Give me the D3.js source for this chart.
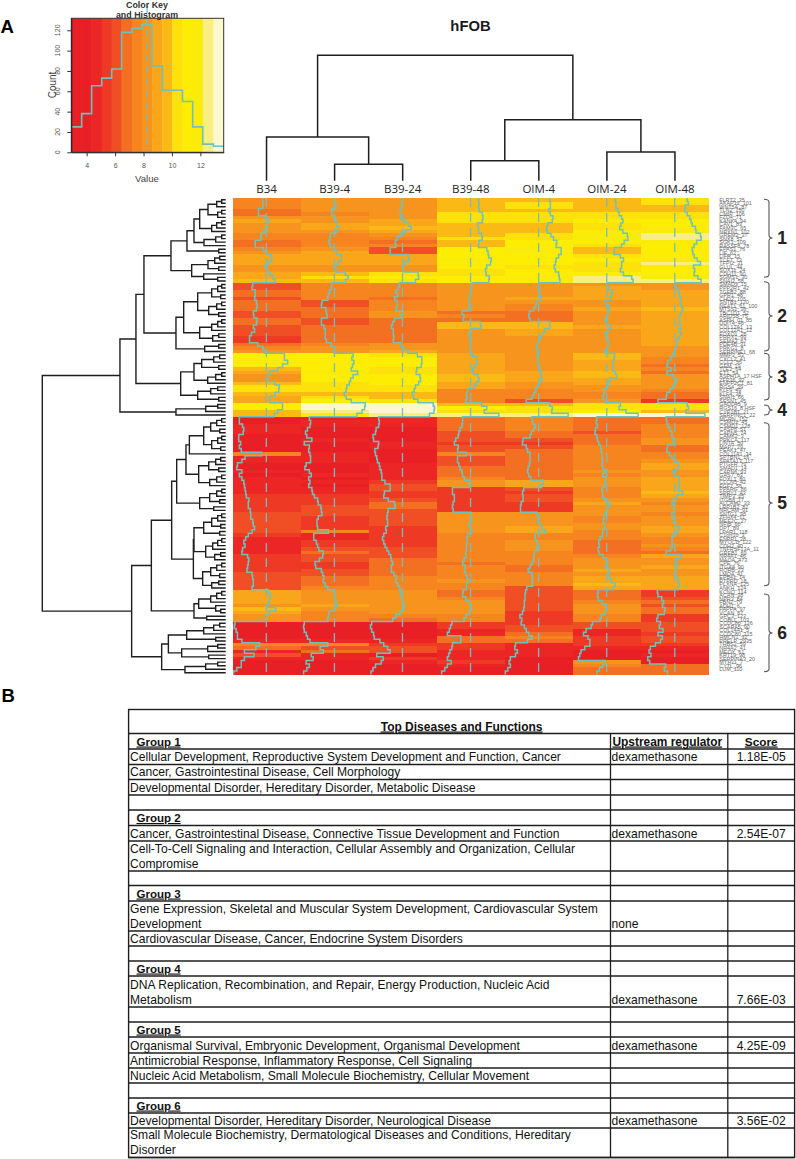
<!DOCTYPE html>
<html><head><meta charset="utf-8">
<script src="https://cdn.jsdelivr.net/npm/d3@7"></script>
<style>html,body{margin:0;padding:0;background:#fff}svg{display:block}text{font-family:"Liberation Sans",Arial,sans-serif}</style>
</head><body><svg id="c" width="796" height="1159"></svg>
<script>
const samples=["B34","B39-4","B39-24","B39-48","OIM-4","OIM-24","OIM-48"];
const valB34=[7.7,7.7,7.7,7.0,7.0,8.1,8.6,8.2,8.4,7.9,7.4,7.4,6.5,6.5,7.8,8.3,9.0,9.1,8.6,8.0,8.3,8.9,9.3,9.6,
6.1,6.0,6.5,6.5,6.4,6.7,6.8,6.7,6.2,6.3,6.8,6.7,6.2,6.4,5.9,5.6,5.6,6.9,7.7,7.9,
11.1,11.1,11.6,10.8,10.0,8.8,8.5,8.4,9.6,10.3,10.2,9.6,8.9,8.8,
10.8,10.8,10.0,9.5,
4.0,4.0,4.5,4.7,4.6,3.9,3.9,4.2,4.0,4.3,7.5,4.9,4.4,3.7,3.6,4.4,4.0,4.4,4.7,4.8,4.9,5.0,5.1,5.5,5.4,5.4,5.7,5.8,5.8,6.1,6.2,6.4,6.0,5.4,5.0,4.7,4.9,4.5,4.4,5.3,5.5,5.4,5.3,5.2,6.0,6.1,6.2,6.2,6.0,
8.6,8.9,8.8,8.7,8.3,9.7,8.6,8.2,8.2,3.3,3.2,3.5,3.7,3.7,4.4,7.2,6.6,4.8,6.3,4.8,4.3,4.3,3.6,3.1];
const valB39_4=[8.3,8.3,8.5,7.9,7.8,8.3,8.5,8.6,8.9,8.5,7.6,7.5,7.4,7.6,8.2,8.6,9.3,9.3,8.8,8.2,8.5,10.0,10.4,10.0,
7.8,7.8,7.5,7.3,7.2,6.3,6.2,6.9,7.0,7.1,6.2,6.2,6.6,6.8,6.8,6.8,7.0,7.7,8.3,8.2,
11.2,11.0,11.3,11.1,10.9,11.9,11.2,10.8,10.6,10.2,10.1,9.8,10.1,10.9,
13.1,13.0,12.6,11.8,
4.3,4.5,4.4,4.0,3.7,3.9,4.7,3.5,4.3,4.2,4.4,4.5,4.5,3.8,3.6,4.3,4.6,4.2,4.4,4.2,4.7,4.8,5.1,5.6,5.7,6.1,6.2,6.3,5.7,5.5,5.5,5.6,7.3,5.0,5.0,5.4,5.6,5.8,6.5,6.4,5.9,5.2,5.3,6.2,6.4,6.6,6.5,6.8,7.2,
8.2,8.3,8.4,8.5,8.7,8.3,7.4,7.3,7.2,3.5,3.4,3.5,3.8,4.0,4.4,7.2,6.0,6.5,4.6,4.9,3.8,4.3,3.9,3.4];
const valB39_24=[8.2,8.2,8.1,7.9,7.9,8.0,8.6,9.2,9.6,8.7,7.9,7.4,7.1,7.2,6.3,6.3,9.2,9.3,8.6,8.3,8.4,10.7,10.8,10.3,
7.8,7.6,7.2,7.5,7.0,7.4,7.4,7.2,8.3,8.0,7.0,6.7,6.5,6.8,6.8,6.9,6.8,8.0,8.5,9.1,
10.6,11.3,11.3,11.2,10.5,10.4,11.0,11.1,10.8,10.3,10.1,9.8,10.0,10.7,
13.1,13.3,13.2,12.5,
4.5,4.6,4.5,4.1,4.0,3.6,3.7,4.5,4.4,3.9,4.0,4.2,4.3,4.6,4.7,4.9,5.0,5.0,5.5,6.3,6.3,5.4,5.3,6.0,7.0,7.1,6.0,5.9,5.8,5.9,5.9,5.6,5.7,5.3,5.1,5.3,5.5,5.8,6.1,6.4,6.5,6.7,6.5,6.5,6.9,7.3,7.2,7.5,7.8,
7.9,8.0,8.2,8.3,8.5,8.4,7.9,7.2,6.7,3.4,3.2,3.4,3.7,3.8,4.7,5.3,5.9,6.3,4.2,5.2,4.9,4.0,3.6,3.3];
const valB39_48=[9.5,9.6,9.5,9.6,10.1,10.2,10.1,9.4,9.5,9.5,10.0,10.1,9.6,9.5,10.8,11.0,11.1,11.5,11.4,10.8,10.6,10.7,11.2,11.1,
8.5,8.3,8.3,8.2,8.0,8.1,8.0,7.9,6.9,7.2,7.1,9.8,9.9,8.3,8.0,8.1,8.3,8.2,8.2,8.3,
8.6,9.2,9.3,9.0,8.6,8.7,9.4,9.6,9.2,8.8,7.8,7.6,7.7,7.5,
10.0,10.8,10.4,12.7,
7.0,7.0,6.9,6.6,6.4,6.3,5.9,5.7,6.3,6.2,7.6,6.2,6.2,6.4,6.6,6.9,7.0,7.3,8.2,8.0,5.4,5.4,5.7,5.7,5.5,5.4,5.5,8.3,8.3,8.4,8.0,8.3,8.4,7.8,7.7,7.7,7.6,7.6,7.5,7.5,7.2,7.0,7.4,7.3,7.5,7.7,7.9,7.6,7.6,
7.1,7.0,7.5,8.0,8.3,8.3,8.1,7.5,7.2,5.3,5.1,4.9,4.6,6.7,6.7,5.4,5.3,5.0,4.8,4.6,5.2,4.6,4.2,3.7];
const valOIM_4=[10.0,10.1,10.1,9.9,10.1,10.5,10.4,9.7,9.5,9.6,10.2,10.6,11.1,11.0,11.8,11.8,11.4,11.0,10.9,10.7,10.9,11.4,11.5,11.6,
8.3,8.3,8.4,8.5,8.6,7.9,7.8,7.5,6.8,6.7,6.9,10.0,10.0,9.2,8.9,8.5,8.3,8.0,7.9,8.0,
8.0,8.2,8.1,8.3,8.4,8.7,8.6,8.8,8.3,8.0,7.8,7.5,7.2,6.3,
10.0,10.4,10.3,12.9,
7.2,7.3,7.7,7.5,7.1,6.9,5.8,5.7,6.3,6.5,6.9,6.9,6.9,6.8,6.6,6.5,6.7,7.0,9.0,8.7,5.9,5.7,5.8,5.8,5.5,5.4,5.4,8.0,8.3,8.1,8.5,8.8,9.3,7.7,7.7,8.0,8.1,7.9,7.6,7.5,7.5,7.2,6.9,6.6,7.2,7.3,7.2,7.3,6.4,
6.2,6.1,6.1,6.0,6.0,5.9,5.7,5.3,5.6,5.5,6.0,6.3,6.7,7.2,6.5,4.6,4.5,4.9,4.6,3.8,3.6,3.8,3.4,3.0];
const valOIM_24=[9.6,9.7,9.7,10.0,10.2,10.6,10.8,10.5,10.3,10.8,11.5,11.6,11.0,10.6,9.5,9.4,10.4,10.9,10.6,10.6,10.4,10.9,12.2,12.4,
8.3,8.6,9.2,9.0,8.8,7.9,8.5,8.7,8.5,8.3,8.0,8.2,8.9,8.5,8.0,8.3,8.5,8.5,8.3,7.9,
9.5,9.4,9.2,9.3,9.2,9.6,9.8,8.8,8.6,8.3,7.9,7.8,7.6,7.9,
10.4,10.2,11.3,13.2,
6.7,6.6,6.8,6.5,6.4,6.7,6.8,7.0,7.3,7.4,7.5,7.5,7.6,7.5,7.7,8.0,7.6,8.1,8.0,7.9,7.5,7.6,7.6,8.0,8.8,8.5,8.3,8.0,7.8,7.7,7.9,7.9,7.6,7.6,7.2,7.0,7.1,6.9,7.0,7.7,8.2,8.4,8.1,8.6,8.5,8.7,9.0,9.6,9.3,
6.9,6.8,6.9,7.5,8.1,8.2,8.0,7.4,7.2,6.0,5.8,5.0,4.6,5.3,5.6,5.6,4.8,4.2,4.0,3.8,8.0,7.6,7.1,6.7];
const valOIM_48=[10.2,10.4,9.9,9.8,10.2,10.6,10.8,11.0,11.5,11.6,12.3,12.4,11.7,11.3,11.0,11.1,11.3,11.8,12.3,11.2,11.4,11.3,11.9,12.4,
8.3,8.5,8.9,9.0,9.2,9.1,9.3,9.5,9.3,9.0,9.1,9.0,9.2,8.9,9.2,8.9,8.6,8.6,8.4,8.3,
7.9,7.6,7.2,7.0,7.7,7.0,8.0,8.5,8.3,8.0,7.5,7.0,6.9,5.6,
10.2,10.4,10.0,13.0,
6.9,7.0,7.2,7.5,7.8,7.8,8.1,8.0,7.1,7.0,7.4,7.8,8.2,8.9,8.8,8.0,8.2,8.9,8.9,9.0,8.8,9.5,8.6,8.1,7.8,8.1,8.2,7.8,7.9,8.1,8.4,8.9,8.7,8.0,7.8,7.8,7.9,7.6,6.9,9.3,8.5,8.5,8.6,8.4,8.2,8.7,8.8,9.0,8.8,
5.5,5.6,6.2,6.5,6.3,6.7,6.6,5.6,5.4,6.0,5.8,6.4,5.6,6.3,6.0,5.2,4.4,4.2,4.5,4.0,4.3,6.8,6.6,7.1];
const matrix=[valB34,valB39_4,valB39_24,valB39_48,valOIM_4,valOIM_24,valOIM_48];

const geneLabels=["FLRT2_35","AKAP12_101","WNT5A_87","TLN2_150","CMIP_106","FZD4_71","KANK4_94","CAV1_83","FAM3C_65","NRXN1_102","GREM2_37","SNX8_57","SGK1_109","RASSF8_78","EPAS1_76","LIF_62","LIFR_15","TCF7_73","TFPI2_31","GLUL_44","SOX11_24","CDH11_90","SGMS1_30","SNAI2_58",
"SMAD3_15","PPP2R1_42","TGFB2_88","GPR1_48","CHD2_105","SNTB1_120","NEAT1_61_100","MTSS1_36","TBC1D1_52","ARID5B_75","ASPH_01_85","DDIT4_46","COL12A1_13","COL12A1_12","FOXO1_26","PRRX1_99","SEMA3_67","PDE4B_31","PRKG1_8","SERPINE1_68",
"MMP3_53","CXCL2_41","CCL2_55","GEM_19","TLE2_64","ET1_54","ASPH1A_17 HSF","ZFP36_92","ENPP2C1_81","RGS4_39","KLF9_49","KLF4_38","SNAI1_66","SESN1_45",
"GADD45_9","RGS16_8 HSF","CYP1B1_21","SERPINC1_22",
"MGRN_152","CSMD2_45","CSMD1_128","CASP8_51","CAPN5_74","CAMK2_3","PRKCA_117","LINTA_50","MAP7_29","PEAK1_47","COL11A1_34","SPTBN1_16","SPATA13_117","PTGFR_72","SMAD1_14","CAPN6_93","GAS7_63","FOXL1_80","CLCN5_42","FGF7_56","PPARG_86","SPRY1_43","TIMP3_25","ITGB8_77","ALCAM2_33","LRP1B2_82","NRCAM_91","SNTG1_95","ZFHX4_11","MEF2C_27","NFIB_60","DPT_89","LPAR1_118","C1orf10_3","ENPP1_28","MYOCD_122","CDH2_40","TNFRSF13A_11","GREB1_69","NR4A1_46","MAOA_473","CPE_70","ITGA4_90","RORB_23","LMO4_41","EPB41_14","PTPRD_18","PLXNA_125","ANKH_124",
"KCNQ_114","ACAN_38","NPR3_84","FBN2_79","ADH1_6","PAPPA_97","VCAN_67","GPC3_123","COBLL_103","CCDC80_126","SCARA5_90","COL14A1_5","CCDC80_115","HMCN1_32","PRELP_2935","THBS2_59","NR4A2_41","MEOX_61","KRT19_98","SERPINA3_20","MYH11_7","CYTL_96","LUM_110"];

const keyBreaks=[2.92,3.65,4.35,5.06,5.76,6.46,7.19,7.89,8.60,9.33,10.03,10.74,11.46,12.17,12.92,13.64];
const keyColors=["#e91f26","#e91f26","#eb2625","#ee3925","#f04e24","#f36f21","#f6851f","#f7941d","#faa61a","#fbb915","#fde10a","#fced02","#faeb0b","#f8ee82","#fdf7cd"];
const histCounts=[25,38,65.5,73,82,118,122,125.5,85,61,61,50,25,8,6];
const centerValue=8.25;
const countTicks=[0,20,40,60,80,100,120];
const valueTicks=[4,6,8,10,12];

const colTree=[125.4,[43.7,0,[16.4,0,0]],[61,[20,0,0],[28.7,0,0]]];
const group1Tree=[54.7,[38.7,[31.7,[26,[17.7,[9,[4,0,0],0],[8,[4,0,0],0]],[14,[9,[4,0,0],0],0]],[21.7,[10,[4,0,0],0],0]],[7,0,0]],[34,[17.7,[11,[6,0,0],0],[7,0,0]],[22,0,[8,0,0]]]];
const group2Tree=[49.7,[42,[28,[14,[8,[4,0,0],0],[5,0,0]],[17,[9,[4,0,0],0],[7,0,0]]],[26,[14,[8,[4,0,0],0],0],[13,[7,0,0],0]]],[21,[7,0,0],0]];
const group3Tree=[45,[31.7,[24,[12,[6,0,0],0],[7,0,0]],[18,[10,[4,0,0],0],0]],[28,[15,[8,0,0],0],[7,0,0]]];
const group4Tree=[49.7,[20,[8,0,0],0],0];
const group5Tree=[54,[49,[39.7,[36.3,[22,[15,[9,[4,0,0],0],[6,0,0]],[14,[8,[4,0,0],0],[5,0,0]]],0],[27,[17,[10,[5,0,0],0],[7,0,0]],[16,[9,[4,0,0],0],0]]],[26,[16,[9,[4,0,0],0],[6,0,0]],[12,0,0]]],[32.3,[31.7,[22,[14,[8,[4,0,0],0],[5,0,0]],[6,0,0]],[20,[13,[8,[4,0,0],0],0],[11,[5,0,0],0]]],[23,[15,[9,[4,0,0],0],[6,0,0]],[14,[7,0,0],0]]]];
const amberTree=[31.7,[27,[15,[9,[4,0,0],0],0],[10,0,[5,0,0]]],[19,0,0]];
const group6Tree=[64,[57.3,[39,[22,[12,[6,0,0],0],0],[10,0,0]],[44,[18,[8,0,0],0],[17,0,0]]],[40.7,[20,[8,0,0],0],0]];
const rowTree=[183.3,[105.7,[89.7,[81.7,group1Tree,group2Tree],group3Tree],group4Tree],[94,[74.3,group5Tree,amberTree],group6Tree]];

const groupNames=["1","2","3","4","5","6"];
const tableTitle="Top Diseases and Functions";
const tableHeader=["Upstream regulator","Score"];
const tableRows=[
 {g:"Group 1"},
 {t:["Cellular Development, Reproductive System Development and Function, Cancer"],r:"dexamethasone",s:"1.18E-05"},
 {t:["Cancer, Gastrointestinal Disease, Cell Morphology"]},
 {t:["Developmental Disorder, Hereditary Disorder, Metabolic Disease"]},
 {t:[]},
 {g:"Group 2"},
 {t:["Cancer, Gastrointestinal Disease, Connective Tissue Development and Function"],r:"dexamethasone",s:"2.54E-07"},
 {t:["Cell-To-Cell Signaling and Interaction, Cellular Assembly and Organization, Cellular","Compromise"]},
 {t:[]},
 {g:"Group 3"},
 {t:["Gene Expression, Skeletal and Muscular System Development, Cardiovascular System","Development"],r:"none"},
 {t:["Cardiovascular Disease, Cancer, Endocrine System Disorders"]},
 {t:[]},
 {g:"Group 4"},
 {t:["DNA Replication, Recombination, and Repair, Energy Production, Nucleic Acid","Metabolism"],r:"dexamethasone",s:"7.66E-03"},
 {t:[]},
 {g:"Group 5"},
 {t:["Organismal Survival, Embryonic Development, Organismal Development"],r:"dexamethasone",s:"4.25E-09"},
 {t:["Antimicrobial Response, Inflammatory Response, Cell Signaling"]},
 {t:["Nucleic Acid Metabolism, Small Molecule Biochemistry, Cellular Movement"]},
 {t:[]},
 {g:"Group 6"},
 {t:["Developmental Disorder, Hereditary Disorder, Neurological Disease"],r:"dexamethasone",s:"3.56E-02"},
 {t:["Small Molecule Biochemistry, Dermatological Diseases and Conditions, Hereditary","Disorder"]}
];

/* ---------- drawing ---------- */
const svg=d3.select("#c");
const defs=svg.append("defs");
defs.append("filter").attr("id","soft").attr("x","-2%").attr("y","-2%").attr("width","104%").attr("height","104%")
 .attr("color-interpolation-filters","sRGB").append("feGaussianBlur").attr("stdDeviation",0.55);
const traceCol="#6fc2bc",dark="#1e1e1e";
const heat=d3.scaleThreshold().domain(keyBreaks.slice(1,-1)).range(keyColors);
const x=d3.scaleBand().domain(samples).range([232.5,709]);
const y=d3.scaleBand().domain(d3.range(valB34.length)).range([198,674.5]);
const vDom=[keyBreaks[0],keyBreaks[keyBreaks.length-1]];

// heatmap
const cells=[];
matrix.forEach((col,c)=>col.forEach((v,r)=>cells.push({c,r,v})));
svg.append("g").attr("filter","url(#soft)").selectAll("rect").data(cells).join("rect")
 .attr("x",d=>x(samples[d.c])).attr("y",d=>y(d.r))
 .attr("width",x.bandwidth()+0.3).attr("height",y.bandwidth()+0.5)
 .attr("fill",d=>heat(d.v)).attr("shape-rendering","crispEdges");

// traces + centre lines
const gTrace=svg.append("g");
matrix.forEach((col,c)=>{
 const tx=d3.scaleLinear().domain(vDom).range([x(samples[c]),x(samples[c])+x.bandwidth()]);
 gTrace.append("line").attr("x1",tx(centerValue)).attr("x2",tx(centerValue))
  .attr("y1",198).attr("y2",674.5).attr("stroke","#78bcc0").attr("stroke-width",1.3).attr("stroke-dasharray","9,6");
 const pts=col.map((v,r)=>[tx(v),y(r)]);
 pts.push([tx(col[col.length-1]),y.range()[1]]);
 gTrace.append("path").attr("d",d3.line().curve(d3.curveStepBefore)(pts))
  .attr("fill","none").attr("stroke",traceCol).attr("stroke-width",1.5);
});

// dendrograms
function tree(data,leafPos){
 const root=d3.hierarchy(data,d=>Array.isArray(d)?d.slice(1):null);let i=0;
 root.eachAfter(n=>{
  if(!n.children){n.pos=leafPos(i++);n.h=0}else{n.pos=d3.mean(n.children,k=>k.pos);n.h=n.data[0]}
 });return root;
}
const hx=d3.scaleLinear().domain([0,183.3]).range([225.7,42.3]);
const rowRoot=tree(rowTree,i=>y(i)+y.bandwidth()/2);
const rp=d3.path();
rowRoot.each(n=>{if(!n.children)return;const[a,b]=n.children;
 rp.moveTo(hx(a.h),a.pos);rp.lineTo(hx(n.h),a.pos);rp.lineTo(hx(n.h),b.pos);rp.lineTo(hx(b.h),b.pos);});
svg.append("path").attr("d",rp.toString()).attr("fill","none").attr("stroke",dark).attr("stroke-width",1.4);

const hy=d3.scaleLinear().domain([0,125.4]).range([180.7,55.3]);
const colRoot=tree(colTree,i=>x(samples[i])+x.bandwidth()/2);
const cp=d3.path();
colRoot.each(n=>{if(!n.children)return;const[a,b]=n.children;
 cp.moveTo(a.pos,hy(a.h));cp.lineTo(a.pos,hy(n.h));cp.lineTo(b.pos,hy(n.h));cp.lineTo(b.pos,hy(b.h));});
svg.append("path").attr("d",cp.toString()).attr("fill","none").attr("stroke",dark).attr("stroke-width",1.5);

// sample labels
svg.append("g").selectAll("text").data(samples).join("text")
 .attr("x",d=>x(d)+x.bandwidth()/2).attr("y",193).attr("text-anchor","middle")
 .style("font-family","'Open Sans'").style("font-size","11.5px").attr("fill","#222").text(d=>d);
svg.append("text").attr("x",470.5).attr("y",31).attr("text-anchor","middle")
 .style("font-weight","bold").style("font-size","14.8px").attr("fill","#1a1a1a").text("hFOB");
// panel letters
svg.append("text").attr("x",0.5).attr("y",33).style("font-weight","bold").style("font-size","18.5px").text("A");
svg.append("text").attr("x",1.5).attr("y",702).style("font-weight","bold").style("font-size","18.5px").text("B");

// gene labels
svg.append("g").selectAll("text").data(geneLabels).join("text")
 .attr("x",719.3).attr("y",(d,i)=>y(i)+y.bandwidth()/2+2)
 .style("font-size","5.4px").attr("fill","#666").text(d=>d);

// group brackets
const brackets=[[199.3,238,277.3],[281.7,316,351],[353.3,377,400],[405,410,415],[422.7,503,585.7],[594,633,671.7]];
const bg=svg.append("g");
brackets.forEach(([a,t,b],i)=>{
 const p=d3.path(),x0=764,x1=769,r=Math.min(3,(b-a)/4);
 p.moveTo(x0,a);p.quadraticCurveTo(x1,a,x1,a+r);p.lineTo(x1,t-r);p.quadraticCurveTo(x1,t,x1+3.5,t);
 p.quadraticCurveTo(x1,t,x1,t+r);p.lineTo(x1,b-r);p.quadraticCurveTo(x1,b,x0,b);
 bg.append("path").attr("d",p.toString()).attr("fill","none").attr("stroke","#555").attr("stroke-width",1.1);
 bg.append("text").attr("x",782).attr("y",t+6.3).attr("text-anchor","middle")
  .style("font-weight","bold").style("font-size","17.5px").attr("fill","#222").text(groupNames[i]);
});

// colour key
const kx=d3.scaleLinear().domain(vDom).range([71.3,223.7]);
const ky=d3.scaleLinear().domain([0,131.8]).range([152.3,18.3]);
const gk=svg.append("g");
gk.selectAll("rect").data(keyColors).join("rect")
 .attr("x",(d,i)=>kx(keyBreaks[i])).attr("y",18.3)
 .attr("width",(d,i)=>kx(keyBreaks[i+1])-kx(keyBreaks[i])+0.3).attr("height",134).attr("fill",d=>d);
gk.append("line").attr("x1",kx(centerValue)).attr("x2",kx(centerValue)).attr("y1",6).attr("y2",152.3)
 .attr("stroke","#78bcc0").attr("stroke-width",1.3).attr("stroke-dasharray","7,5");
const hp=histCounts.map((c,i)=>[kx(keyBreaks[i]),ky(c)]);
hp.push([kx(keyBreaks[histCounts.length]),ky(histCounts[histCounts.length-1])]);
gk.append("path").attr("d",d3.line().curve(d3.curveStepAfter)(hp)).attr("fill","none").attr("stroke",traceCol).attr("stroke-width",1.6);
gk.append("rect").attr("x",71.3).attr("y",18.3).attr("width",152.4).attr("height",134).attr("fill","none").attr("stroke","#333").attr("stroke-width",1);
const axB=gk.append("g").attr("transform","translate(0,152.3)").call(d3.axisBottom(kx).tickValues(valueTicks).tickSize(4).tickPadding(7).tickSizeOuter(0));
const axL=gk.append("g").attr("transform","translate(71.3,0)").call(d3.axisLeft(ky).tickValues(countTicks).tickSize(4).tickPadding(3).tickSizeOuter(0));
[axB,axL].forEach(a=>{a.select(".domain").attr("stroke","#222");a.selectAll("line").attr("stroke","#333");
 a.selectAll("text").style("font-size","7px").style("font-family","'Liberation Sans'").attr("fill","#555");});
axL.selectAll("text").attr("transform",d=>`rotate(-90 -10.8 ${ky(d)})`).attr("x",-10.8).attr("dy",0).attr("text-anchor","middle").attr("y",ky);
axL.selectAll("g.tick").attr("transform","translate(0,0)");
axL.selectAll("g.tick line").attr("transform",d=>`translate(0,${ky(d)+0.5})`);
gk.append("text").attr("x",147).attr("y",7.5).attr("text-anchor","middle").style("font-weight","bold").style("font-size","8.9px").attr("fill","#333").text("Color Key");
gk.append("text").attr("x",147).attr("y",18).attr("text-anchor","middle").style("font-weight","bold").style("font-size","8.9px").attr("fill","#333").text("and Histogram");
gk.append("text").attr("x",147).attr("y",181.5).attr("text-anchor","middle").style("font-size","9.6px").attr("fill","#444").text("Value");
gk.append("text").attr("transform","translate(55.5,85) rotate(-90)").attr("text-anchor","middle").style("font-size","10px").attr("fill","#444").text("Count");

// table
const rowBottoms=[749,764.5,779.5,795,810,825.5,841,871,885.5,901,931,946,961,976,1007,1022,1037,1053,1068,1083,1098,1113,1128,1157.5];
const tL=128.6,tR=794.6,tC1=610.5,tC2=727.8,tTop=709.5,tHead=733.5;
const gt=svg.append("g");
const fs="12.1px";
gt.append("rect").attr("x",tL).attr("y",tTop).attr("width",tR-tL).attr("height",rowBottoms[rowBottoms.length-1]-tTop).attr("fill","none").attr("stroke",dark).attr("stroke-width",1.4);
gt.selectAll("line.h").data([tHead,...rowBottoms]).join("line").attr("x1",tL).attr("x2",tR).attr("y1",d=>d).attr("y2",d=>d).attr("stroke",dark).attr("stroke-width",1.3);
[tC1,tC2].forEach(v=>gt.append("line").attr("x1",v).attr("x2",v).attr("y1",tHead).attr("y2",rowBottoms[rowBottoms.length-1]).attr("stroke",dark).attr("stroke-width",1.3));
function txt(x,y,s,o={}){const t=gt.append("text").attr("x",x).attr("y",y).style("font-size",o.fs||fs).attr("fill","#111").text(s);
 if(o.bold)t.style("font-weight","bold");if(o.u)t.style("text-decoration","underline");if(o.mid)t.attr("text-anchor","middle");return t;}
txt((tL+tR)/2,730.5,tableTitle,{bold:1,u:1,mid:1,fs:"12px"});
txt(612.5,745.5,tableHeader[0],{bold:1,u:1,fs:"11.9px"});
txt((tC2+tR)/2,745.5,tableHeader[1],{bold:1,u:1,mid:1,fs:"11.8px"});
tableRows.forEach((r,i)=>{
 const b=rowBottoms[i]-3.5;
 if(r.g)txt(136.5,b,r.g,{bold:1,u:1,fs:"11.5px"});
 if(r.t)r.t.forEach((l,j)=>txt(130,b-(r.t.length-1-j)*15,l));
 if(r.r)txt(611.5,b,r.r);
 if(r.s)txt((tC2+tR)/2,b,r.s,{mid:1});
});
</script></body></html>
